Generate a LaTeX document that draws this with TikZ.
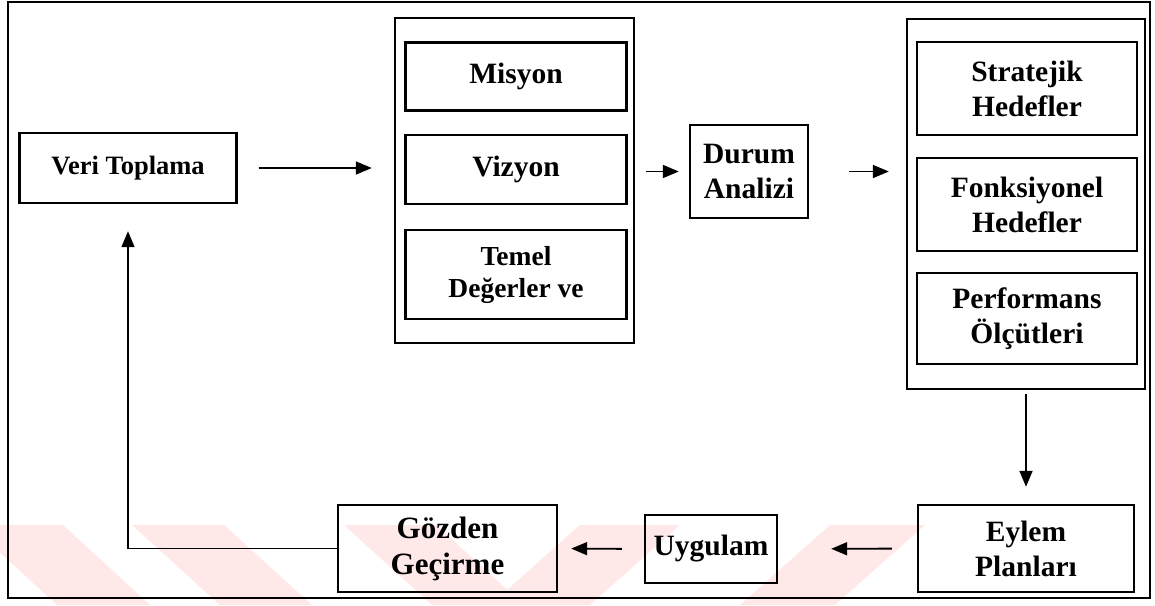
\documentclass[tikz,border=0pt]{standalone}
\usepackage{fontspec}
\setmainfont{Liberation Serif}
\usetikzlibrary{arrows.meta}
\begin{document}
\begin{tikzpicture}[x=1pt,y=-1pt,
  box/.style={draw,line width=2.4pt,inner sep=0pt,align=center,font=\bfseries\fontsize{29.5}{35}\selectfont},
  group/.style={draw,line width=2.4pt,inner sep=0pt},
  flow/.style={line width=1.8pt,-{Triangle[length=16pt,width=13pt]}},
  band/.style={fill=red!9,draw=none}]
\useasboundingbox (0,0) rectangle (1155,605);
% pale diagonal bands along the bottom edge
\begin{scope}
\clip (0,0) rectangle (1155,605);
\fill[band] (-30,525) -- (63,525) -- (150,605) -- (57,605) -- cycle;
\fill[band] (132,525) -- (224,525) -- (312,605) -- (220,605) -- cycle;
\fill[band] (344,525) -- (436,525) -- (524,605) -- (432,605) -- cycle;
\fill[band] (580,525) -- (680,525) -- (590,605) -- (490,605) -- cycle;
\fill[band] (830,525) -- (925,525) -- (835,605) -- (740,605) -- cycle;
\end{scope}
% outer frame
\draw[line width=2.4pt] (8,2) rectangle (1150,598);
% left column
\node[box,minimum width=217pt,minimum height=70pt,font=\bfseries\fontsize{26.5}{30}\selectfont] (veri) at (128,168) {Veri Toplama};
% mission / vision / values group
\node[group,minimum width=239pt,minimum height=325pt] (leftgrp) at (514.5,180.5) {};
\node[box,minimum width=221pt,minimum height=68pt] (misyon) at (516,76.5) {Misyon};
\node[box,minimum width=221pt,minimum height=69pt] (vizyon) at (516,169.5) {Vizyon};
\node[box,minimum width=221pt,minimum height=89pt,font=\bfseries\fontsize{27.5}{32}\selectfont] (temel) at (516,274.5) {Temel\\Değerler ve};
% situation analysis
\node[box,minimum width=118pt,minimum height=93pt] (durum) at (749,171.5) {Durum\\Analizi};
% goals group
\node[group,minimum width=238pt,minimum height=370pt] (rightgrp) at (1026,204) {};
\node[box,minimum width=220pt,minimum height=93pt] (strat) at (1027,88.5) {Stratejik\\Hedefler};
\node[box,minimum width=220pt,minimum height=93pt] (fonks) at (1027,204.5) {Fonksiyonel\\Hedefler};
\node[box,minimum width=220pt,minimum height=91pt] (perf) at (1027,318.5) {Performans\\Ölçütleri};
% bottom row
\node[box,minimum width=216pt,minimum height=87pt] (eylem) at (1026,548.5) {Eylem\\Planları};
\node[box,minimum width=132pt,minimum height=68pt] (uyg) at (711,549) {Uygulam};
\node[box,minimum width=219pt,minimum height=87pt,font=\bfseries\fontsize{31}{36}\selectfont] (gozden) at (447.5,548.5) {Gözden\\Geçirme};
% connectors
\draw[flow,shorten <=21pt,shorten >=22pt] (veri.east) -- (veri.east -| leftgrp.west);
\draw[flow,shorten <=11pt,shorten >=10pt] (durum.west -| leftgrp.east) -- (durum.west);
\draw[flow,shorten <=40pt,shorten >=17pt] (durum.east) -- (durum.east -| rightgrp.west);
\draw[flow,shorten <=4pt,shorten >=17pt] (rightgrp.south) -- (eylem.north);
\draw[flow,shorten <=25pt,shorten >=53pt] (eylem.west) -- (uyg.east);
\draw[flow,shorten <=22pt,shorten >=13pt] (uyg.west) -- (gozden.east);
\draw[flow,line width=1.5pt,shorten >=27pt] (gozden.west) -| (veri.south);
\end{tikzpicture}
\end{document}
